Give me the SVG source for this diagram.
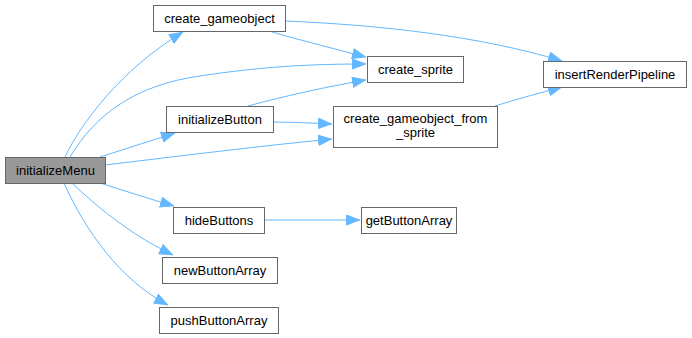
<svg xmlns="http://www.w3.org/2000/svg" width="692" height="338" viewBox="0 0 692 338">
  <style>
    .node rect { fill: #ffffff; stroke: #666666; stroke-width: 1; }
    #initializeMenu rect { fill: #999999; }
    .node text { font-family: "Liberation Sans", Arial, sans-serif; font-size: 13px; fill: #000000; text-anchor: middle; }
    .edge { fill: none; stroke: #63b8ff; stroke-width: 1; marker-end: url(#arrow); }
  </style>
  <defs>
    <marker id="arrow" viewBox="0 0 14 11" refX="14" refY="5.5" markerWidth="14" markerHeight="11" markerUnits="userSpaceOnUse" orient="auto">
      <path d="M0.5,0.5 L13.5,5.5 L0.5,10.5 z" fill="#63b8ff" stroke="#63b8ff" stroke-width="1"/>
    </marker>
  </defs>
  <rect width="692" height="338" fill="#ffffff"/>

  <g id="connectors">
    <!-- initializeMenu calls -->
    <path class="edge" d="M65,157 C80,125 120,70 183,32"/>
    <path class="edge" d="M70,157 C95,115 135,85 200,76 C265,66 315,64 366,64"/>
    <path class="edge" d="M100,157 C125,149 150,141 175,133"/>
    <path class="edge" d="M105,165 C180,156 260,146 332,139"/>
    <path class="edge" d="M100,183 C125,191 150,199 174,206"/>
    <path class="edge" d="M72,183 C100,210 135,237 173,255"/>
    <path class="edge" d="M64,183 C85,230 120,280 168,305"/>
    <!-- create_gameobject calls -->
    <path class="edge" d="M272,32 C300,40 335,49 366,57"/>
    <path class="edge" d="M285,21 C380,25 480,36 562,61"/>
    <!-- initializeButton calls -->
    <path class="edge" d="M248,106 C285,96 325,87 366,80"/>
    <path class="edge" d="M273,122 C292,122 312,123 332,124"/>
    <!-- create_gameobject_from_sprite calls -->
    <path class="edge" d="M495,106 C517,99 540,93 562,87"/>
    <!-- hideButtons calls -->
    <path class="edge" d="M264,220 L360,220"/>
  </g>

  <g id="initializeMenu" class="node">
    <rect x="5.5" y="157.5" width="100" height="26"/>
    <text x="55.5" y="175">initializeMenu</text>
  </g>
  <g id="create_gameobject" class="node">
    <rect x="153.5" y="5.5" width="132" height="26"/>
    <text x="219.5" y="23">create_gameobject</text>
  </g>
  <g id="create_sprite" class="node">
    <rect x="367.5" y="56.5" width="96" height="26"/>
    <text x="415.5" y="74">create_sprite</text>
  </g>
  <g id="insertRenderPipeline" class="node">
    <rect x="543.5" y="61.5" width="143" height="26"/>
    <text x="615" y="79">insertRenderPipeline</text>
  </g>
  <g id="initializeButton" class="node">
    <rect x="166.5" y="106.5" width="107" height="26"/>
    <text x="220" y="124">initializeButton</text>
  </g>
  <g id="create_gameobject_from_sprite" class="node">
    <rect x="333.5" y="106.5" width="164" height="41"/>
    <text x="415.5" y="123">create_gameobject_from</text>
    <text x="415.5" y="137">_sprite</text>
  </g>
  <g id="hideButtons" class="node">
    <rect x="173.5" y="207.5" width="91" height="26"/>
    <text x="219" y="225">hideButtons</text>
  </g>
  <g id="getButtonArray" class="node">
    <rect x="361.5" y="207.5" width="95" height="26"/>
    <text x="409" y="225">getButtonArray</text>
  </g>
  <g id="newButtonArray" class="node">
    <rect x="162.5" y="257.5" width="115" height="26"/>
    <text x="220" y="275">newButtonArray</text>
  </g>
  <g id="pushButtonArray" class="node">
    <rect x="159.5" y="307.5" width="119" height="26"/>
    <text x="219" y="325">pushButtonArray</text>
  </g>
</svg>
